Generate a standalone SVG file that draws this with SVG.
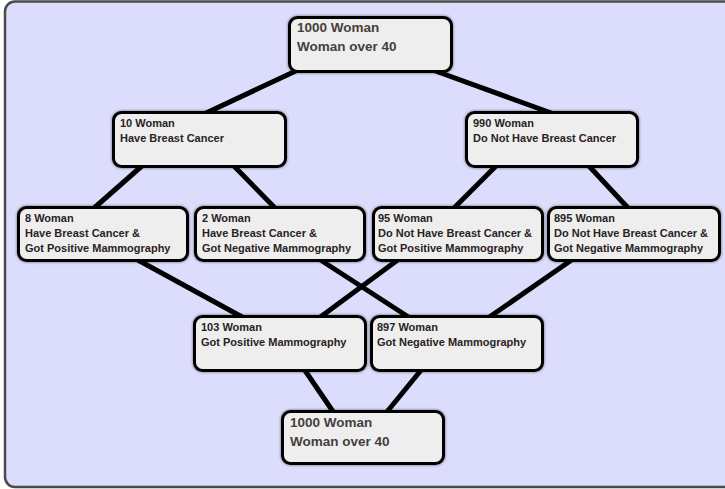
<svg xmlns="http://www.w3.org/2000/svg" width="725" height="489" viewBox="0 0 725 489">
<style>
.panel{fill:#dcdcfc;stroke:#4a4a4a;stroke-width:2.5}
.box{fill:#eeeeee;stroke:#000;stroke-width:3;filter:url(#sh)}
.conn line{stroke:#000;stroke-width:5;stroke-linecap:butt}
.s{font-family:"Liberation Sans",Arial,sans-serif;font-weight:bold;font-size:11px;fill:#2a2222}
.l{font-family:"Liberation Sans",Arial,sans-serif;font-weight:bold;font-size:13.5px;fill:#463f3c}
</style>
<defs>
<filter id="sh" x="-10%" y="-20%" width="120%" height="140%">
<feDropShadow dx="0" dy="0" stdDeviation="1.5" flood-color="#000" flood-opacity="0.55"/>
</filter>
</defs>
<rect class="panel" x="5" y="1.5" width="740" height="485.5" rx="10"/>
<g id="connectors" class="conn">
<line x1="300" y1="69" x2="204" y2="114"/>
<line x1="430" y1="69" x2="554" y2="114"/>
<line x1="143" y1="165" x2="93" y2="209"/>
<line x1="233" y1="165" x2="276" y2="209"/>
<line x1="497" y1="165" x2="453" y2="209"/>
<line x1="588" y1="165" x2="629" y2="209"/>
<line x1="136" y1="259" x2="244" y2="318"/>
<line x1="319" y1="259" x2="410" y2="318"/>
<line x1="399" y1="259" x2="319" y2="318"/>
<line x1="573" y1="259" x2="488" y2="318"/>
<line x1="304" y1="369" x2="334" y2="413"/>
<line x1="422" y1="369" x2="386" y2="413"/>
</g>
<g id="n_top">
<rect class="box" x="289.5" y="17.5" width="162" height="54" rx="8"/>
<text class="l" x="297" y="32">1000 Woman</text>
<text class="l" x="297" y="51">Woman over 40</text>
</g>
<g id="n_10">
<rect class="box" x="113.5" y="112.5" width="172" height="54" rx="8"/>
<text class="s" x="120" y="127">10 Woman</text>
<text class="s" x="120" y="142">Have Breast Cancer</text>
</g>
<g id="n_990">
<rect class="box" x="466.5" y="112.5" width="171" height="54" rx="8"/>
<text class="s" x="473" y="127">990 Woman</text>
<text class="s" x="473" y="142">Do Not Have Breast Cancer</text>
</g>
<g id="n_8">
<rect class="box" x="18.5" y="207.5" width="169" height="53" rx="8"/>
<text class="s" x="25" y="222">8 Woman</text>
<text class="s" x="25" y="237">Have Breast Cancer &amp;</text>
<text class="s" x="25" y="252">Got Positive Mammography</text>
</g>
<g id="n_2">
<rect class="box" x="195.5" y="207.5" width="169" height="53" rx="8"/>
<text class="s" x="202" y="222">2 Woman</text>
<text class="s" x="202" y="237">Have Breast Cancer &amp;</text>
<text class="s" x="202" y="252">Got Negative Mammography</text>
</g>
<g id="n_95">
<rect class="box" x="373.5" y="207.5" width="169" height="53" rx="8"/>
<text class="s" x="378" y="222">95 Woman</text>
<text class="s" x="378" y="237">Do Not Have Breast Cancer &amp;</text>
<text class="s" x="378" y="252">Got Positive Mammography</text>
</g>
<g id="n_895">
<rect class="box" x="548.5" y="207.5" width="171" height="53" rx="8"/>
<text class="s" x="554" y="222">895 Woman</text>
<text class="s" x="554" y="237">Do Not Have Breast Cancer &amp;</text>
<text class="s" x="554" y="252">Got Negative Mammography</text>
</g>
<g id="n_103">
<rect class="box" x="194.5" y="316.5" width="171" height="54" rx="8"/>
<text class="s" x="201" y="331">103 Woman</text>
<text class="s" x="201" y="346">Got Positive Mammography</text>
</g>
<g id="n_897">
<rect class="box" x="371.5" y="316.5" width="171" height="54" rx="8"/>
<text class="s" x="377" y="331">897 Woman</text>
<text class="s" x="377" y="346">Got Negative Mammography</text>
</g>
<g id="n_bottom">
<rect class="box" x="282.5" y="411.5" width="161" height="52" rx="8"/>
<text class="l" x="290" y="427">1000 Woman</text>
<text class="l" x="290" y="446">Woman over 40</text>
</g>
</svg>
